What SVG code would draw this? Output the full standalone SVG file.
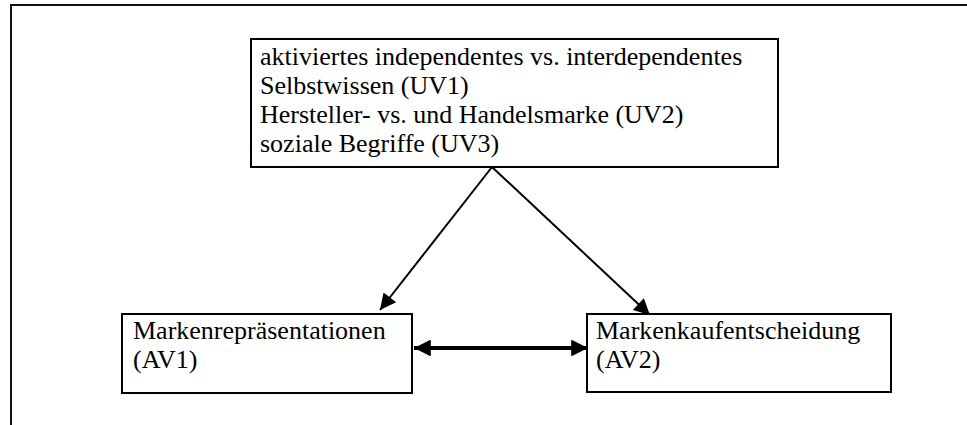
<svg xmlns="http://www.w3.org/2000/svg" width="967" height="425" viewBox="0 0 967 425">
  <style>
    .box { fill: #ffffff; stroke: #000000; stroke-width: 2; }
    .label { font-family: "Liberation Serif", "Times New Roman", serif; font-size: 26px; fill: #000000; }
    .frame { fill: none; stroke: #111111; stroke-width: 2; }
    .edge { fill: none; stroke: #000000; stroke-width: 2; }
    .edge-bold { fill: none; stroke: #000000; stroke-width: 4; }
  </style>
  <defs>
    <marker id="arrow-lg" viewBox="0 0 10 10" refX="10" refY="5" markerWidth="5" markerHeight="4.2" orient="auto-start-reverse">
      <path d="M0,0 L10,5 L0,10 z" fill="#000000"/>
    </marker>
    <marker id="arrow-diag" viewBox="0 0 10 10" refX="10" refY="5" markerWidth="10" markerHeight="8" orient="auto">
      <path d="M0,0 L10,5 L0,10 z" fill="#000000"/>
    </marker>
  </defs>

  <!-- page frame: top and left rule only -->
  <path class="frame" d="M11,425 L11,5 L967,5"/>

  <!-- connectors -->
  <g id="connectors">
    <line class="edge" x1="492" y1="167" x2="380" y2="310" marker-end="url(#arrow-diag)"/>
    <line class="edge" x1="492" y1="167" x2="650" y2="315" marker-end="url(#arrow-diag)"/>
    <line class="edge-bold" x1="414" y1="348" x2="588" y2="348" marker-start="url(#arrow-lg)" marker-end="url(#arrow-lg)"/>
  </g>

  <!-- independent variables -->
  <g id="node-uv">
    <rect class="box" x="251" y="39" width="527" height="128"/>
    <text class="label" x="260" y="65">aktiviertes independentes vs. interdependentes</text>
    <text class="label" x="260" y="94">Selbstwissen (UV1)</text>
    <text class="label" x="260" y="123">Hersteller- vs. und Handelsmarke (UV2)</text>
    <text class="label" x="260" y="152">soziale Begriffe (UV3)</text>
  </g>

  <!-- dependent variable 1 -->
  <g id="node-av1">
    <rect class="box" x="122" y="314" width="290" height="79"/>
    <text class="label" x="133" y="339">Markenrepräsentationen</text>
    <text class="label" x="133" y="368">(AV1)</text>
  </g>

  <!-- dependent variable 2 -->
  <g id="node-av2">
    <rect class="box" x="587" y="314" width="304" height="78"/>
    <text class="label" x="596" y="339">Markenkaufentscheidung</text>
    <text class="label" x="596" y="368">(AV2)</text>
  </g>
</svg>
